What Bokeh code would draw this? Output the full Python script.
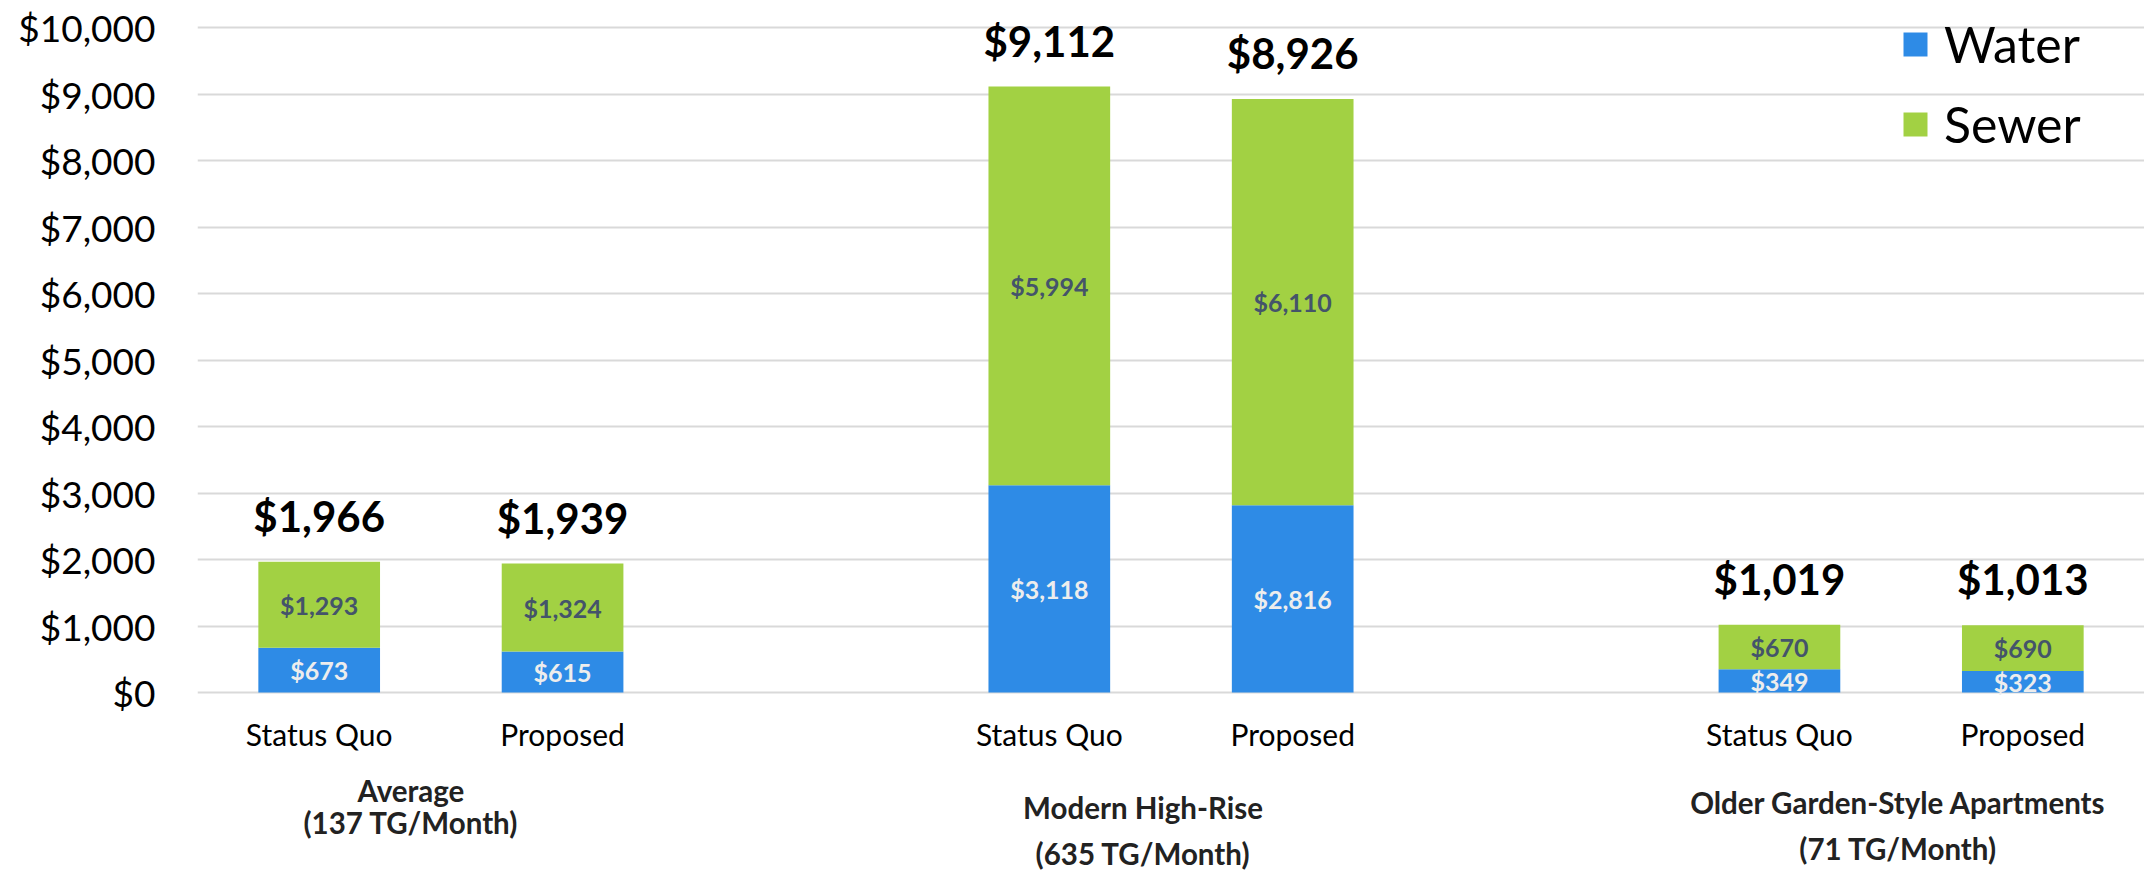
from bokeh.plotting import figure
from bokeh.models import (FactorRange, Range1d, FixedTicker, NumeralTickFormatter,
                          ColumnDataSource, Legend, LegendItem)
from bokeh.core.properties import value
from bokeh.embed import file_html
from bokeh.resources import INLINE

# ---- data ----
groups = ["Average", "Modern High-Rise", "Older Garden-Style Apartments"]
group_notes = ["(137 TG/Month)", "(635 TG/Month)", "(71 TG/Month)"]
scenarios = ["Status Quo", "Proposed"]
water = [673, 615, 3118, 2816, 349, 323]
sewer = [1293, 1324, 5994, 6110, 670, 690]
totals = [1966, 1939, 9112, 8926, 1019, 1013]
y_ticks = [0, 1000, 2000, 3000, 4000, 5000, 6000, 7000, 8000, 9000, 10000]
series = ["Water", "Sewer"]

# ---- style ----
FONT = "Lato"
C_WATER = "#2E8BE6"
C_SEWER = "#A2D143"

x = [(g, s) for g in groups for s in scenarios]
src = ColumnDataSource(dict(
    x=x,
    Water=water,
    Sewer=sewer,
    total=totals,
    water_mid=[w / 2 for w in water],
    sewer_mid=[w + s / 2 for w, s in zip(water, sewer)],
    water_lbl=["${:,}".format(v) for v in water],
    sewer_lbl=["${:,}".format(v) for v in sewer],
    total_lbl=["${:,}".format(v) for v in totals],
    cat=[s for g in groups for s in scenarios],
    zero=[0] * len(x),
))

px_per_unit = 665 / 10000.0
y_top = 10000 + 27 / px_per_unit
y_bot = -(872 - 692) / px_per_unit

p = figure(width=2144, height=872, output_backend="svg", toolbar_location=None,
           x_range=FactorRange(*x, factor_padding=0.0, group_padding=1.0, range_padding=0.0),
           y_range=Range1d(y_bot, y_top),
           min_border_left=197, min_border_right=0, min_border_top=0, min_border_bottom=0)
p.outline_line_color = None
p.background_fill_color = "white"
p.border_fill_color = "white"

rs = p.vbar_stack(series, x="x", width=0.5, source=src,
                  color=[C_WATER, C_SEWER], line_color=None)

# axes
p.xaxis.visible = False
p.xgrid.visible = False
yax = p.yaxis[0]
yax.ticker = FixedTicker(ticks=y_ticks)
yax.formatter = NumeralTickFormatter(format="$0,0")
yax.axis_line_color = None
yax.major_tick_line_color = None
yax.minor_tick_line_color = None
yax.major_tick_out = 0
yax.major_label_standoff = 42
yax.major_label_text_font = FONT
yax.major_label_text_font_size = "37px"
yax.major_label_text_color = "#000000"
p.ygrid.ticker = FixedTicker(ticks=y_ticks)
p.ygrid.grid_line_color = "#D9D9D9"
p.ygrid.grid_line_width = 2

# inner labels
p.text(x="x", y="water_mid", text="water_lbl", source=src, text_align="center",
       text_baseline="middle", text_font=value(FONT), text_font_style="bold",
       text_font_size="25px", text_color="#EDEDED")
p.text(x="x", y="sewer_mid", text="sewer_lbl", source=src, text_align="center",
       text_baseline="middle", text_font=value(FONT), text_font_style="bold",
       text_font_size="25px", text_color="#44546A")
# totals
p.text(x="x", y="total", text="total_lbl", source=src, text_align="center",
       text_baseline="middle", text_font=value(FONT), text_font_style="bold",
       text_font_size="42px", text_color="#000000", y_offset=-46)
# category labels
p.text(x="x", y="zero", text="cat", source=src, text_align="center",
       text_baseline="middle", text_font=value(FONT), text_font_size="30px",
       text_color="#000000", y_offset=41)
# group labels
gsrc = ColumnDataSource(dict(
    g=groups, note=group_notes, zero=[0, 0, 0],
    xo=[-30, -28, -3], yo1=[98, 115, 110], yo2=[130, 161, 156]))
p.text(x="g", y="zero", text="g", source=gsrc, x_offset="xo", y_offset="yo1",
       text_align="center", text_baseline="middle", text_font=value(FONT),
       text_font_style="bold", text_font_size="29.5px", text_color="#222222")
p.text(x="g", y="zero", text="note", source=gsrc, x_offset="xo", y_offset="yo2",
       text_align="center", text_baseline="middle", text_font=value(FONT),
       text_font_style="bold", text_font_size="29.5px", text_color="#222222")

legend = Legend(items=[LegendItem(label=series[0], renderers=[rs[0]]),
                       LegendItem(label=series[1], renderers=[rs[1]])],
                location=(1703, 718), orientation="vertical",
                glyph_width=30, glyph_height=30, label_standoff=14,
                label_text_font=FONT, label_text_font_size="50px",
                label_text_color="#000000", spacing=20, padding=0,
                border_line_color=None, background_fill_alpha=0)
p.add_layout(legend)

open("out.html", "w").write(file_html(p, INLINE))
